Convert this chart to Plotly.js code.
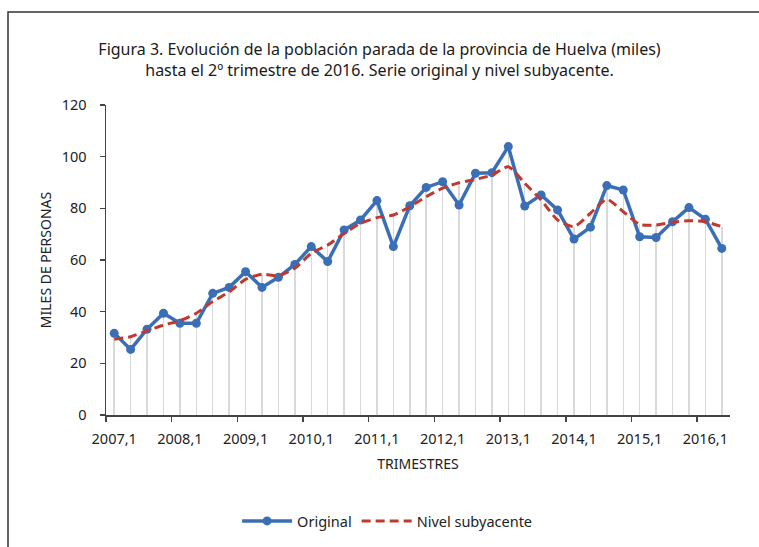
<!DOCTYPE html>
<html>
<head>
<meta charset="utf-8">
<script src="https://cdn.plot.ly/plotly-3.0.1.min.js"></script>
<style>
  body { margin: 0; background: #fff; }
  #plot { width: 759px; height: 547px; }
</style>
</head>
<body>
<div id="plot"></div>
<script>
const plot = document.getElementById("plot");

// quarters 2007,1 .. 2016,2
const quarters = [
  "2007,1", "2007,2", "2007,3", "2007,4",
  "2008,1", "2008,2", "2008,3", "2008,4",
  "2009,1", "2009,2", "2009,3", "2009,4",
  "2010,1", "2010,2", "2010,3", "2010,4",
  "2011,1", "2011,2", "2011,3", "2011,4",
  "2012,1", "2012,2", "2012,3", "2012,4",
  "2013,1", "2013,2", "2013,3", "2013,4",
  "2014,1", "2014,2", "2014,3", "2014,4",
  "2015,1", "2015,2", "2015,3", "2015,4",
  "2016,1", "2016,2"
];

const original = [
  31.6, 25.4, 33.2, 39.4,
  35.5, 35.5, 47.1, 49.4,
  55.5, 49.4, 53.3, 58.3,
  65.2, 59.4, 71.6, 75.5,
  83.0, 65.2, 81.0, 88.1,
  90.3, 81.3, 93.6, 93.8,
  103.9, 80.9, 85.2, 79.4,
  68.1, 72.7, 88.8, 87.1,
  69.0, 68.7, 74.8, 80.3,
  75.8, 64.5
];

const nivel = [
  29.3, 30.3, 32.6, 34.8,
  36.5, 39.4, 43.9, 47.7,
  52.5, 54.5, 53.9, 56.8,
  62.6, 65.8, 70.3, 74.2,
  76.4, 77.4, 80.6, 84.5,
  87.8, 89.9, 91.2, 92.9,
  96.1, 89.7, 83.2, 75.5,
  72.9, 78.1, 83.5, 78.7,
  73.8, 73.5, 74.6, 75.2,
  74.8, 72.9
];

const yTicks = [0, 20, 40, 60, 80, 100, 120];

const idx = quarters.map((q, i) => i);
const labelIdx = idx.filter(i => quarters[i].endsWith(",1"));
const dropTop = idx.map(i => Math.max(original[i], nivel[i]));

const font = "Noto Sans, Open Sans, sans-serif";

// plot area in pixels: x 106..730, y 105..415
const L = 106, R = 29, T = 105, B = 132;
const pw = 759 - L - R, ph = 547 - T - B;

Plotly.newPlot(
  plot,
  [
    {
      type: "bar",
      x: idx,
      y: dropTop,
      width: 0.09,
      marker: { color: "#d9d9d9", line: { width: 0 } },
      showlegend: false,
      hoverinfo: "skip"
    },
    {
      type: "scatter",
      mode: "lines+markers",
      name: "Original",
      x: idx,
      y: original,
      line: { color: "#3a6fb7", width: 3.5 },
      marker: { color: "#3a6fb7", size: 9 }
    },
    {
      type: "scatter",
      mode: "lines",
      name: "Nivel subyacente",
      x: idx,
      y: nivel,
      line: { color: "#c0392f", width: 3, dash: "9px,5px", shape: "spline", smoothing: 0.6 }
    }
  ],
  {
    width: 759,
    height: 547,
    margin: { l: L, r: R, t: T, b: B },
    paper_bgcolor: "#fff",
    plot_bgcolor: "#fff",
    font: { family: font, color: "#222", size: 14 },
    title: {
      text: "Figura 3. Evolución de la población parada de la provincia de Huelva (miles)<br>hasta el 2º trimestre de 2016. Serie original y nivel subyacente.",
      font: { family: font, size: 16, color: "#1a1a1a" },
      x: 0.5,
      xref: "container",
      xanchor: "center",
      y: 1 - 55 / 547,
      yref: "container",
      yanchor: "middle"
    },
    showlegend: true,
    legend: {
      orientation: "h",
      x: 0.51,
      xref: "container",
      xanchor: "center",
      y: 1 - 521 / 547,
      yref: "container",
      yanchor: "middle",
      font: { family: font, size: 14.5, color: "#222" },
      itemwidth: 50
    },
    bargap: 0,
    xaxis: {
      range: [-0.5, 37.5],
      tickmode: "array",
      tickvals: labelIdx,
      ticktext: labelIdx.map(i => quarters[i]),
      ticks: "",
      ticklabelstandoff: 10,
      showgrid: false,
      zeroline: false,
      showline: true,
      linecolor: "#444",
      linewidth: 1.5,
      tickfont: { family: font, size: 14.5, color: "#222" },
      minor: {
        tickmode: "linear",
        tick0: -0.5,
        dtick: 4,
        ticks: "outside",
        ticklen: 5,
        tickwidth: 1.5,
        tickcolor: "#444",
        showgrid: false
      },
      title: {
        text: "TRIMESTRES",
        font: { family: font, size: 14, color: "#222" },
        standoff: 12
      }
    },
    yaxis: {
      range: [0, 120],
      tickmode: "array",
      tickvals: yTicks,
      ticks: "outside",
      ticklen: 5,
      tickwidth: 1.5,
      tickcolor: "#444",
      ticklabelstandoff: 10,
      showgrid: false,
      zeroline: false,
      showline: true,
      linecolor: "#444",
      linewidth: 1.5,
      tickfont: { family: font, size: 14.5, color: "#222" },
      title: {
        text: "MILES DE PERSONAS",
        font: { family: font, size: 14, color: "#222" },
        standoff: 7
      }
    },
    shapes: [
      {
        type: "rect",
        xref: "paper",
        yref: "paper",
        x0: (8 - L) / pw,
        x1: (770 - L) / pw,
        y0: (415 - 560) / ph,
        y1: (415 - 12) / ph,
        line: { color: "#333", width: 1.5 },
        fillcolor: "rgba(0,0,0,0)",
        layer: "below"
      }
    ]
  },
  { displayModeBar: false, staticPlot: true }
);
</script>
</body>
</html>
